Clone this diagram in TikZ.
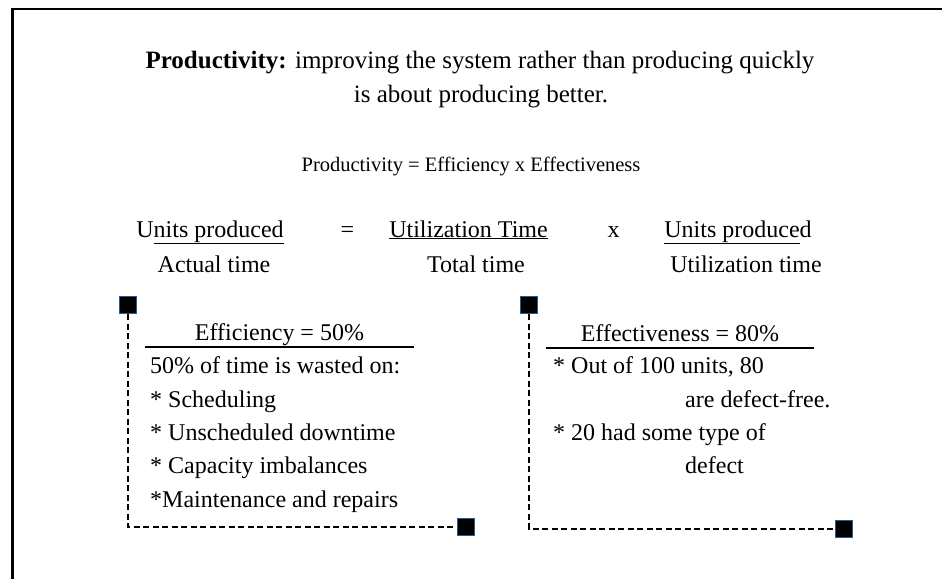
\documentclass[tikz,border=0pt]{standalone}
\usepackage{fontspec}
\setmainfont{Liberation Serif}
\definecolor{handleedge}{RGB}{38,92,145}

\begin{document}
\begin{tikzpicture}[x=1pt, y=-1pt,
  every node/.style = {inner sep=0pt, font=\fontsize{24}{29}\selectfont},
  txt/.style        = {anchor=base},
  lefttxt/.style    = {anchor=base west},
  titletxt/.style   = {anchor=base, font=\fontsize{25}{30}\selectfont},
  eqtxt/.style      = {anchor=base, font=\fontsize{20.5}{24}\selectfont},
  handle/.style     = {rectangle, draw=handleedge, line width=1.5pt, fill=black, minimum size=17pt},
  guide/.style      = {dash pattern=on 6pt off 3.5pt, line width=2pt},
  rulebar/.style    = {line width=2pt},
  frameline/.style  = {line width=2.5pt},
]
\useasboundingbox (0,0) rectangle (942,579);
% Frame
\draw[frameline] (12.5,579) -- (12.5,9) -- (942,9);
% Title
\node[titletxt] (title1) at (480,68) {\textbf{Productivity:} improving the system rather than producing quickly};
\node[titletxt] (title2) at (481,102) {is about producing better.};
\node[eqtxt] (eqn) at (471,171) {Productivity = Efficiency x Effectiveness};
% Ratio row
\node[txt] (effnum) at (210,237) {U\underline{nits produced}};
\node[txt] (effden) at (214,272) {Actual time};
\node[txt] (eqsign) at (347.5,237) {=};
\node[txt] (utilnum) at (468.5,237) {\underline{Utilization Time}};
\node[txt] (utilden) at (476,272) {Total time};
\node[txt] (times) at (613.5,237) {x};
\node[txt] (qualnum) at (738,237) {\underline{Units produce}d};
\node[txt] (qualden) at (746,272) {Utilization time};
% Efficiency block
\node[handle] (hA) at (128,305) {};
\node[handle] (hB) at (466,527) {};
\draw[guide] (hA.south) |- (hB.west);
\node[txt, minimum width=269pt] (effhead) at (279.5,340) {Efficiency = 50\%};
\draw[rulebar] ([yshift=-7pt]effhead.base west) -- ([yshift=-7pt]effhead.base east);
\node[lefttxt] (eff1) at (150,373) {50\% of time is wasted on:};
\node[lefttxt] (eff2) at (150,407) {* Scheduling};
\node[lefttxt] (eff3) at (150,440) {* Unscheduled downtime};
\node[lefttxt] (eff4) at (150,473) {* Capacity imbalances};
\node[lefttxt] (eff5) at (150,507) {*Maintenance and repairs};
% Effectiveness block
\node[handle] (hC) at (529,305) {};
\node[handle] (hD) at (844,529) {};
\draw[guide] (hC.south) |- (hD.west);
\node[txt, minimum width=268pt] (efvhead) at (680,341) {Effectiveness = 80\%};
\draw[rulebar] ([yshift=-7pt]efvhead.base west) -- ([yshift=-7pt]efvhead.base east);
\node[lefttxt] (efv1) at (553,373) {* Out of 100 units, 80};
\node[lefttxt] (efv2) at (685,407) {are defect-free.};
\node[lefttxt] (efv3) at (553,440) {* 20 had some type of};
\node[lefttxt] (efv4) at (685,473) {defect};
\end{tikzpicture}
\end{document}
